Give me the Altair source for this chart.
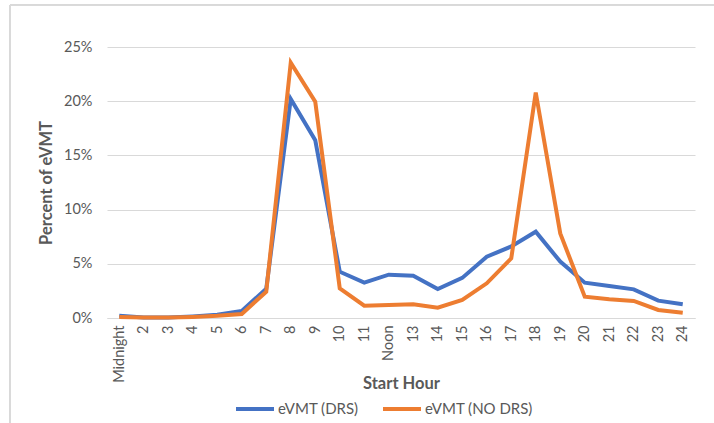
import altair as alt
import pandas as pd

hours = ["Midnight", "2", "3", "4", "5", "6", "7", "8", "9", "10", "11", "Noon",
         "13", "14", "15", "16", "17", "18", "19", "20", "21", "22", "23", "24"]
drs = [0.2, 0.05, 0.05, 0.15, 0.3, 0.65, 2.7, 20.2, 16.4, 4.27, 3.26, 4.0,
       3.9, 2.67, 3.7, 5.65, 6.6, 7.96, 5.2, 3.26, 2.95, 2.64, 1.6, 1.26]
nodrs = [0.1, 0.05, 0.05, 0.1, 0.2, 0.37, 2.43, 23.55, 19.95, 2.74, 1.14, 1.2,
         1.26, 0.95, 1.66, 3.2, 5.5, 20.8, 7.8, 1.97, 1.72, 1.57, 0.74, 0.49]
series = ["eVMT (DRS)", "eVMT (NO DRS)"]

rows = []
for i, h in enumerate(hours):
    rows.append({"hour": h, "order": i, "series": series[0], "value": drs[i] / 100})
    rows.append({"hour": h, "order": i, "series": series[1], "value": nodrs[i] / 100})
df = pd.DataFrame(rows)

FONT = "Lato"
GREY = "#595959"

lines = alt.Chart(df).mark_line(strokeWidth=4).encode(
    x=alt.X("hour:N", sort=hours, scale=alt.Scale(paddingInner=0, paddingOuter=0),
            axis=alt.Axis(title="Start Hour", labelAngle=-90, labelAlign="right",
                          labelBaseline="middle", ticks=False, grid=False,
                          domainColor="#d9d9d9", labelPadding=7,
                          titleY=57, titleBaseline="top",
                          labelFontSize=14.5, titleFontSize=16.5, titleFontWeight="bold",
                          labelColor=GREY, titleColor=GREY, labelFont=FONT, titleFont=FONT)),
    y=alt.Y("value:Q", scale=alt.Scale(domain=[0, 0.25], nice=False),
            axis=alt.Axis(title="Percent of eVMT", format=".0%", values=[0, 0.05, 0.1, 0.15, 0.2, 0.25],
                          ticks=False, domain=False, gridColor="#d9d9d9", labelPadding=15,
                          titlePadding=9, labelFontSize=14.5, titleFontSize=16.5,
                          titleFontWeight="bold", labelColor=GREY, titleColor=GREY,
                          labelFont=FONT, titleFont=FONT)),
    color=alt.Color("series:N", sort=series,
                    scale=alt.Scale(domain=series, range=["#4472C4", "#ED7D31"]),
                    legend=alt.Legend(title=None, orient="none", direction="horizontal",
                                      legendX=127, legendY=341, symbolType="stroke",
                                      symbolSize=1444, symbolStrokeWidth=4,
                                      labelFontSize=15, labelColor=GREY, labelFont=FONT,
                                      labelOffset=2, columnPadding=16)),
    order="order:Q",
)

frame_top = alt.Chart(df).mark_rule(color="#d9d9d9", strokeWidth=1).encode(
    x=alt.value(-97), x2=alt.value(620), y=alt.value(-42))
frame_left = alt.Chart(df).mark_rule(color="#d9d9d9", strokeWidth=1).encode(
    x=alt.value(-97), y=alt.value(-42), y2=alt.value(380))

chart = alt.layer(frame_top, frame_left, lines).properties(
    width=588, height=271,
    autosize=alt.AutoSizeParams(type="none"),
    padding={"left": 107, "top": 47, "right": 19, "bottom": 105},
).configure_view(stroke=None)

chart.save("out.html", embed_options={"renderer": "svg", "actions": False})
